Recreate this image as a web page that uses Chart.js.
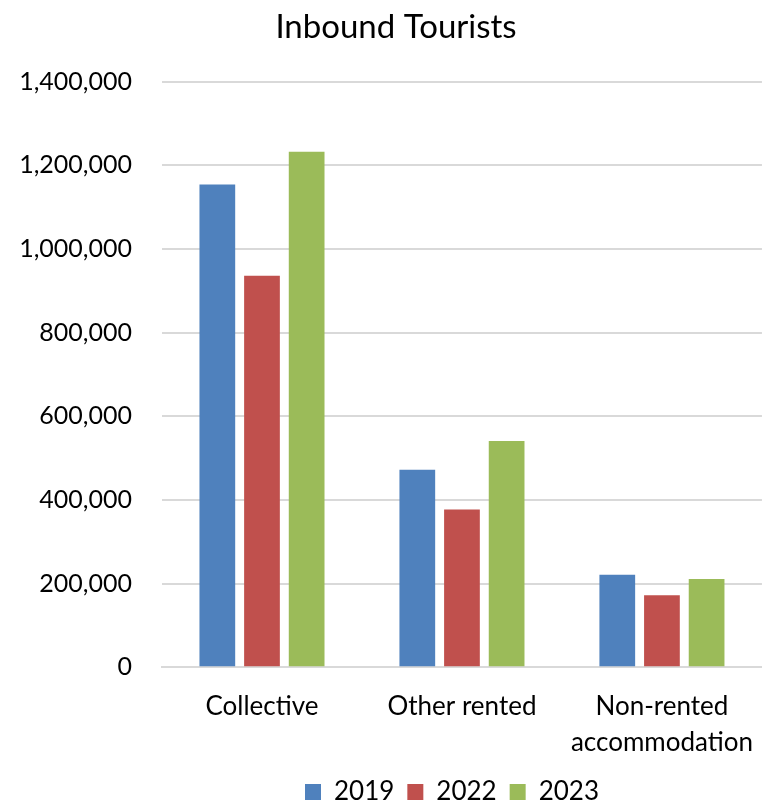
<!DOCTYPE html>
<html>
<head>
<meta charset="utf-8">
<script src="https://cdn.jsdelivr.net/npm/chart.js@4.4.1/dist/chart.umd.min.js"></script>
<style>
  html, body { margin: 0; padding: 0; background: #fff; }
  #wrap { width: 766px; height: 801px; }
</style>
</head>
<body>
<div id="wrap"><canvas id="tourists" width="766" height="801"></canvas></div>
<script>
// Datos
const categories = ['Collective', 'Other rented', ['Non-rented', 'accommodation']];
const years = ['2019', '2022', '2023'];
const values2019 = [1154000, 472000, 221000];
const values2022 = [936000, 377000, 172000];
const values2023 = [1232000, 541000, 211000];
const seriesColors = ['#4F81BD', '#C0504D', '#9BBB59'];

const FONT = 'Lato, "Open Sans", sans-serif';

// Ajuste fino de la posición de la leyenda y del título
const blockShift = {
    id: 'blockShift',
    afterLayout(chart) {
        const lg = chart.legend;
        if (lg) {
            const dx = 64, dy = -8;
            lg.left += dx; lg.right += dx;
            lg.top += dy; lg.bottom += dy;
            if (lg.legendHitBoxes) lg.legendHitBoxes.forEach(b => { b.left += dx; b.top += dy; });
        }
        const tb = chart.titleBlock;
        if (tb) { tb.left += 8; tb.right += 8; }
    }
};

const ctx = document.getElementById('tourists');

new Chart(ctx, {
    type: 'bar',
    data: {
        labels: categories,
        datasets: [values2019, values2022, values2023].map((vals, i) => ({
            label: years[i],
            data: vals,
            backgroundColor: seriesColors[i],
            borderWidth: 0,
            categoryPercentage: 0.67,
            barPercentage: 0.8
        }))
    },
    plugins: [blockShift],
    options: {
        responsive: false,
        animation: false,
        layout: { padding: { left: 10, right: 0, top: 0, bottom: -22 } },
        plugins: {
            title: {
                display: true,
                text: 'Inbound Tourists',
                color: '#000',
                font: { family: FONT, size: 33, weight: 'normal' },
                padding: { top: 8, bottom: 34 }
            },
            legend: {
                position: 'bottom',
                labels: {
                    color: '#000',
                    font: { family: FONT, size: 26 },
                    boxWidth: 16,
                    boxHeight: 16,
                    padding: 13
                }
            },
            tooltip: { enabled: false }
        },
        scales: {
            x: {
                grid: { display: false },
                border: { display: true, color: '#d9d9d9', width: 2 },
                ticks: {
                    color: '#000',
                    font: { family: FONT, size: 26, lineHeight: 1.4 },
                    padding: 13,
                    maxRotation: 0
                }
            },
            y: {
                min: 0,
                max: 1400000,
                grid: { color: '#d9d9d9', lineWidth: 2, drawTicks: false },
                border: { display: false },
                afterFit: (scale) => { scale.width = 152; },
                ticks: {
                    stepSize: 200000,
                    color: '#000',
                    font: { family: FONT, size: 25 },
                    padding: 30,
                    callback: (v) => v.toLocaleString('en-US')
                }
            }
        }
    }
});
</script>
</body>
</html>
